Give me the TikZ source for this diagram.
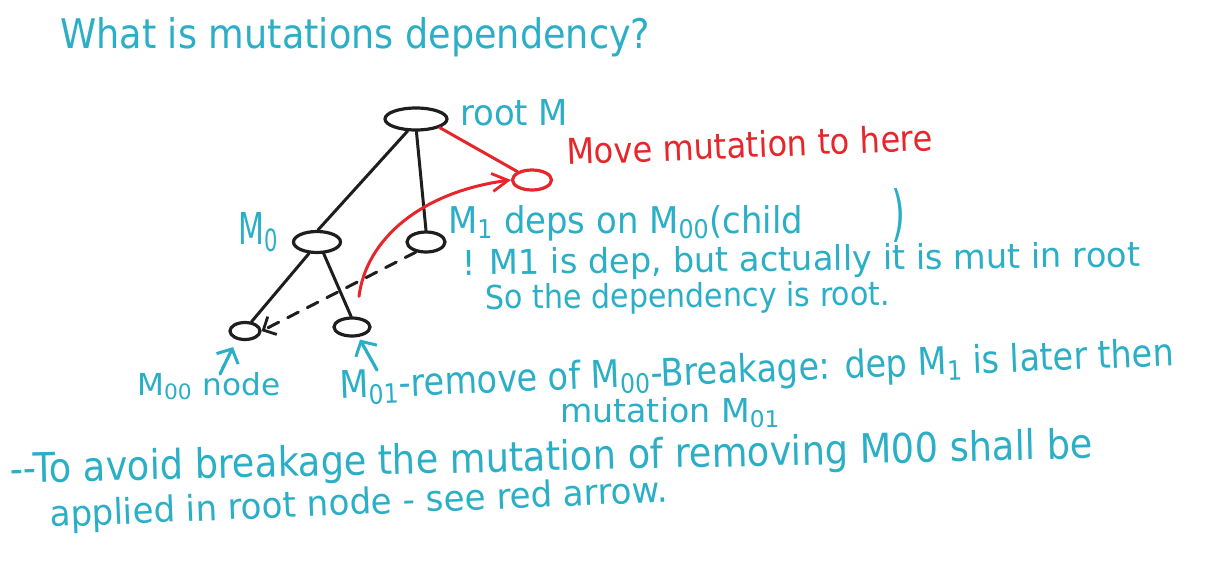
\documentclass[tikz,border=0pt]{standalone}
\usepackage{fontspec}
\setmainfont{DejaVu Sans}
\usepackage{graphicx}
\usetikzlibrary{shapes.geometric,arrows.meta}
\definecolor{ink}{HTML}{2BAFC7}
\definecolor{redink}{HTML}{E6262B}
\definecolor{pen}{HTML}{1E1E1E}
% width, height (above baseline), text
\newcommand{\fitwh}[3]{\resizebox{#1pt}{#2pt}{\fontsize{20}{24}\selectfont #3}}
\begin{document}
\begin{tikzpicture}[x=1pt,y=-1pt,
  ell/.style={draw=pen,ellipse,line width=3.2pt,inner sep=0pt},
  redell/.style={draw=redink,ellipse,line width=3.2pt,inner sep=0pt},
  edge/.style={draw=pen,line width=3pt,line cap=round},
  rededge/.style={draw=redink,line width=3pt,line cap=round},
  txt/.style={text=ink,anchor=base west,inner sep=0pt},
  redtxt/.style={text=redink,anchor=base west,inner sep=0pt},
  cyanarrow/.style={draw=ink,line width=3.2pt,line cap=round,
    -{Straight Barb[length=11pt,width=24pt,line width=3pt]}}
]
\useasboundingbox[fill=white] (0,0) rectangle (1216,576);

% title
\node[txt] (title) at (60,48) {\fitwh{590}{31}{What is mutations dependency?}};

% tree nodes
\node[ell,minimum width=62pt,minimum height=22pt] (root) at (416,119) {};
\node[redell,minimum width=39pt,minimum height=20pt] (red) at (532,180) {};
\node[ell,minimum width=47pt,minimum height=21pt] (m0) at (317,242) {};
\node[ell,minimum width=38pt,minimum height=20pt] (m1) at (426,242) {};
\node[ell,minimum width=30pt,minimum height=17pt] (m00) at (245,331) {};
\node[ell,minimum width=36pt,minimum height=18pt] (m01) at (352,327) {};

% edges
\draw[edge] (root.235) -- (m0.85);
\draw[edge] (root.272) -- (m1.north);
\draw[edge] (m0.235) -- (m00.55);
\draw[edge] (m0.300) -- (m01.95);
\draw[edge,dash pattern=on 12pt off 10pt,
  -{Straight Barb[length=10pt,width=20pt,line width=2.8pt]}] (m1.225) -- (m00.east);
\draw[rededge] (root.-20) -- (red.150);
\draw[rededge,-{Straight Barb[length=16pt,width=18pt,line width=2.8pt]}]
  ([shift={(7,-20)}]m01.north) .. controls (366,240) and (420,192) .. (red.west);

% labels
\node[txt] (rootlbl) at (460,125) {\fitwh{108}{26}{root M}};
\node[redtxt,rotate=2.3] (movelbl) at (567,165) {\fitwh{366}{27}{Move mutation to here}};
\node[txt] (m0lbl) at (238,244) {\fitwh{40}{32}{M\textsubscript{0}}};
\node[txt] (m1lbl) at (448,233) {\fitwh{355}{28}{M\textsubscript{1} deps on M\textsubscript{00}(child}};
\node[text=ink,anchor=north west,inner sep=0pt] (paren) at (891,188) {\resizebox*{14pt}{54pt}{\fontsize{20}{24}\selectfont )}};
\node[txt,rotate=0.7] (note1) at (462,275) {\fitwh{678}{26}{! M1 is dep, but actually it is mut in root}};
\node[txt,rotate=0.5] (note2) at (485,309) {\fitwh{405}{25}{So the dependency is root.}};
\node[txt] (m00lbl) at (137,395) {\fitwh{143}{23}{M\textsubscript{00} node}};
\node[txt,rotate=2.3] (m01lbl) at (340,399) {\fitwh{835}{29}{M\textsubscript{01}-remove of M\textsubscript{00}-Breakage: dep M\textsubscript{1} is later then}};
\node[txt] (mutlbl) at (560,422) {\fitwh{220}{25}{mutation M\textsubscript{01}}};
\node[txt,rotate=1.3] (avoid1) at (10,483) {\fitwh{1083}{31}{-{}-To avoid breakage the mutation of removing M00 shall be}};
\node[txt,rotate=2.3] (avoid2) at (50,527) {\fitwh{618}{27}{applied in root node - see red arrow.}};

% pointer arrows
\coordinate (p00) at (220,374);
\coordinate (p01) at (377,370);
\draw[cyanarrow] (p00) -- ([shift={(-12,6)}]m00.south);
\draw[cyanarrow] (p01) -- ([shift={(8,2)}]m01.south);
\end{tikzpicture}
\end{document}
